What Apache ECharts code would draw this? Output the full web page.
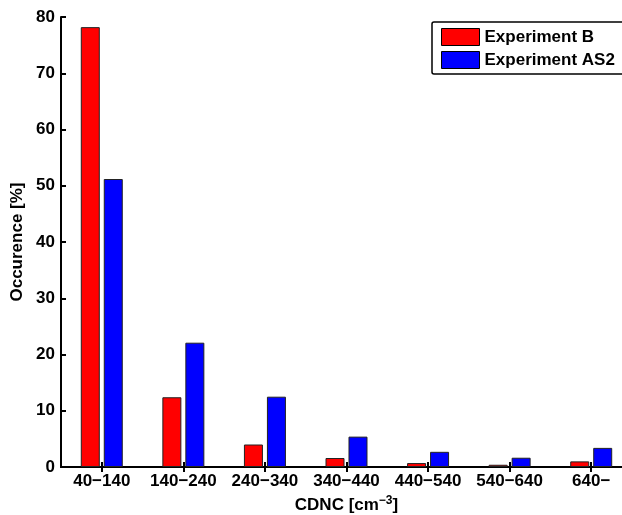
<!DOCTYPE html>
<html>
<head>
<meta charset="utf-8">
<script src="https://cdn.jsdelivr.net/npm/echarts@6/dist/echarts.min.js"></script>
<style>html,body{margin:0;padding:0;background:#fff;}#c{width:622px;height:515px;}</style>
</head>
<body>
<div id="c"></div>
<script>
const categories = ['40\u2212140','140\u2212240','240\u2212340','340\u2212440','440\u2212540','540\u2212640','640\u2212'];
const expB = [78.2, 12.4, 4.0, 1.6, 0.7, 0.4, 1.0];
const expAS2 = [51.2, 22.1, 12.5, 5.4, 2.7, 1.65, 3.4];
const yTicks = [0, 10, 20, 30, 40, 50, 60, 70, 80];

const FONT = 'Liberation Sans';
const FS = 17;
const chart = echarts.init(document.getElementById('c'), null, {renderer: 'canvas'});
const axisLine = {show: true, lineStyle: {color: '#000', width: 2}};
const tick = {show: true, inside: true, alignWithLabel: true, length: 5, lineStyle: {color: '#000', width: 2}};
chart.setOption({
  animation: false,
  backgroundColor: '#fff',
  grid: {left: 61, top: 17, height: 450, width: 571, containLabel: false, outerBoundsMode: 'none'},
  legend: {
    left: 432, top: 22,
    orient: 'vertical',
    icon: 'rect',
    itemWidth: 38, itemHeight: 17, itemGap: 5,
    padding: [6, 60, 5, 9],
    borderColor: '#000', borderWidth: 1.5, borderRadius: 2,
    backgroundColor: '#fff',
    itemStyle: {borderColor: '#000', borderWidth: 1},
    textStyle: {fontFamily: FONT, fontWeight: 'bold', fontSize: FS, color: '#000'},
    data: ['Experiment B', 'Experiment AS2']
  },
  xAxis: [{
    type: 'category', data: categories, position: 'bottom',
    axisLine: axisLine,
    axisTick: tick,
    axisLabel: {interval: 0, fontFamily: FONT, fontWeight: 'bold', fontSize: FS, color: '#000', margin: 6},
    name: 'CDNC [cm{sup|\u22123}]',
    nameLocation: 'middle', nameGap: 27,
    nameTextStyle: {fontFamily: FONT, fontWeight: 'bold', fontSize: FS, color: '#000', verticalAlign: 'top',
      rich: {sup: {fontFamily: FONT, fontWeight: 'bold', fontSize: 12, color: '#000', verticalAlign: 'top', padding: [0,0,9,0]}}}
  }, {
    type: 'category', data: categories, position: 'top',
    axisLine: axisLine,
    axisTick: tick,
    axisLabel: {show: false}
  }],
  yAxis: [{
    type: 'value', min: 0, max: 80, interval: 10,
    axisLine: axisLine,
    axisTick: {show: true, inside: true, length: 5, lineStyle: {color: '#000', width: 2}},
    axisLabel: {fontFamily: FONT, fontWeight: 'bold', fontSize: FS, color: '#000', margin: 6,
      formatter: v => yTicks.includes(v) ? String(v) : ''},
    splitLine: {show: false},
    name: 'Occurence [%]', nameLocation: 'middle', nameGap: 35, nameRotate: 90, nameMoveOverlap: false,
    nameTextStyle: {fontFamily: FONT, fontWeight: 'bold', fontSize: FS, color: '#000'}
  }, {
    type: 'value', min: 0, max: 80, interval: 10, position: 'right',
    axisLine: axisLine, axisTick: {show: true, inside: true, length: 5}, axisLabel: {show: false}, splitLine: {show: false}
  }],
  series: [{
    name: 'Experiment B', type: 'bar', data: expB,
    barWidth: 19, barGap: '21%',
    itemStyle: {color: '#ff0000', borderColor: '#222', borderWidth: 1}
  }, {
    name: 'Experiment AS2', type: 'bar', data: expAS2,
    barWidth: 19, barGap: '21%',
    itemStyle: {color: '#0000ff', borderColor: '#222', borderWidth: 1}
  }]
});
</script>
</body>
</html>
